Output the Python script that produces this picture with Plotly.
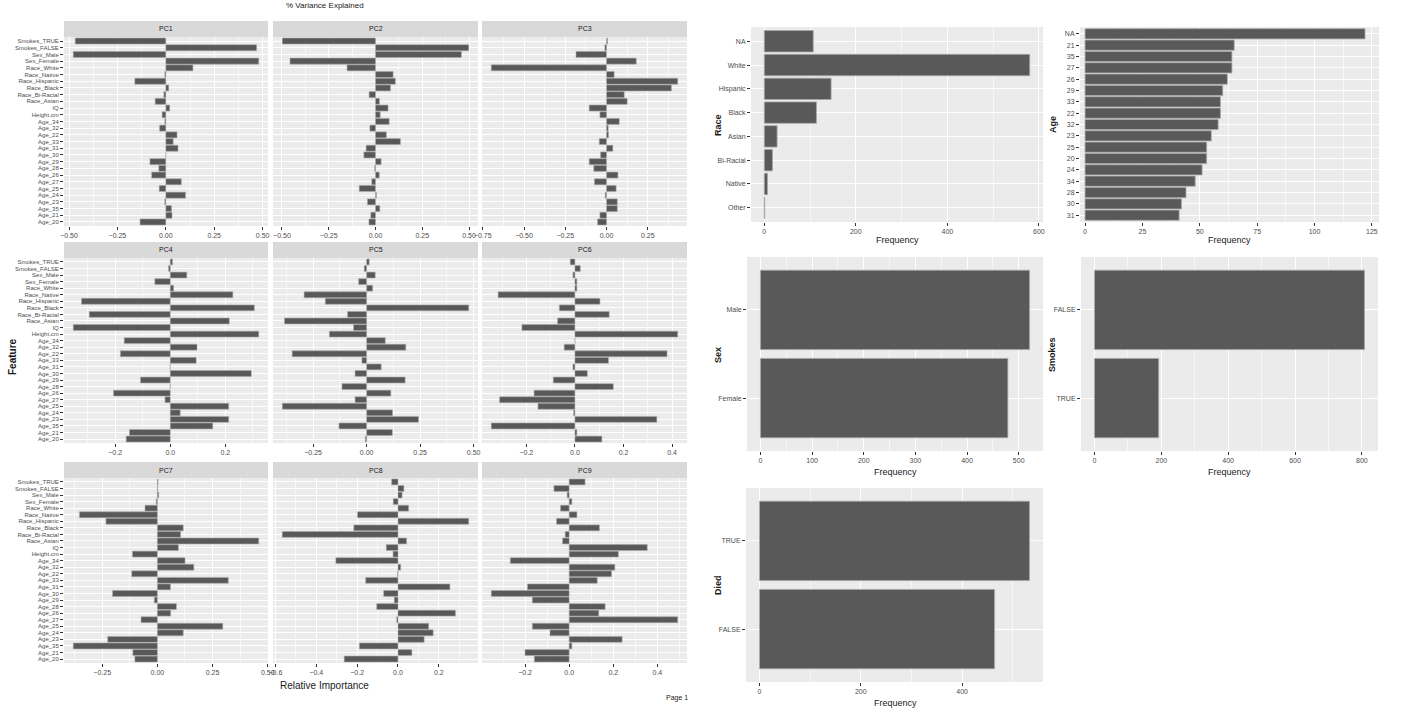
import plotly.graph_objects as go

W, H = 1403, 714

features = ["Smokes_TRUE", "Smokes_FALSE", "Sex_Male", "Sex_Female", "Race_White",
            "Race_Native", "Race_Hispanic", "Race_Black", "Race_Bi-Racial", "Race_Asian",
            "IQ", "Height.cm", "Age_34", "Age_32", "Age_22", "Age_33", "Age_31", "Age_30",
            "Age_29", "Age_28", "Age_26", "Age_27", "Age_25", "Age_24", "Age_23", "Age_35",
            "Age_21", "Age_20"]

pc_names = ["PC1", "PC2", "PC3", "PC4", "PC5", "PC6", "PC7", "PC8", "PC9"]

PC1 = [-0.468, 0.469, -0.478, 0.480, 0.140, -0.005, -0.160, 0.015, -0.010, -0.055,
       0.020, -0.019, -0.005, -0.032, 0.058, 0.038, 0.063, 0.0, -0.082, -0.036,
       -0.073, 0.080, -0.034, 0.102, -0.005, 0.029, 0.032, -0.133]
PC2 = [-0.498, 0.498, 0.459, -0.457, -0.152, 0.094, 0.106, 0.080, -0.034, 0.021,
       0.067, 0.025, 0.073, -0.030, 0.058, 0.133, -0.050, -0.062, 0.030, -0.004,
       0.020, -0.020, -0.087, 0.005, -0.043, 0.023, -0.025, -0.035]
PC3 = [0.006, -0.010, -0.185, 0.180, -0.698, 0.046, 0.431, 0.393, 0.107, 0.125,
       -0.105, -0.040, 0.077, 0.010, 0.012, -0.044, 0.038, -0.036, -0.105, -0.077,
       0.069, -0.073, 0.058, -0.008, 0.065, 0.065, -0.040, -0.054]
PC4 = [0.008, -0.006, 0.060, -0.056, 0.012, 0.227, -0.322, 0.305, -0.294, 0.214,
       -0.352, 0.321, -0.167, 0.097, -0.181, 0.094, 0.0, 0.294, -0.108, 0.0,
       -0.206, -0.019, 0.212, 0.036, 0.212, 0.154, -0.148, -0.160]
PC5 = [0.012, -0.011, 0.040, -0.037, 0.028, -0.292, -0.193, 0.477, -0.089, -0.384,
       -0.061, -0.174, 0.087, 0.183, -0.348, -0.022, 0.068, -0.054, 0.180, -0.115,
       0.113, -0.054, -0.394, 0.121, 0.242, -0.129, 0.120, -0.006]
PC6 = [-0.019, 0.022, -0.008, 0.008, 0.008, -0.316, 0.103, -0.064, 0.141, -0.071,
       -0.218, 0.423, 0.0, -0.044, 0.379, 0.138, -0.008, 0.051, -0.089, 0.158,
       -0.168, -0.310, -0.152, -0.005, 0.337, -0.344, 0.008, 0.111]
PC7 = [0.003, 0.002, 0.006, -0.005, -0.056, -0.353, -0.233, 0.117, 0.105, 0.459,
       0.095, -0.113, 0.125, 0.165, -0.116, 0.321, 0.059, -0.203, -0.014, 0.086,
       0.060, -0.074, 0.296, 0.117, -0.225, -0.381, -0.111, -0.102]
PC8 = [-0.031, 0.029, 0.020, -0.023, 0.052, -0.198, 0.346, -0.216, -0.566, 0.042,
       -0.057, -0.024, -0.304, 0.013, -0.002, -0.158, 0.254, -0.070, -0.018, -0.104,
       0.281, -0.006, 0.150, 0.172, 0.128, -0.189, 0.068, -0.263]
PC9 = [0.072, -0.069, -0.009, 0.012, -0.039, 0.035, -0.057, 0.137, -0.018, -0.030,
       0.354, 0.223, -0.267, 0.207, 0.192, 0.127, -0.189, -0.353, -0.167, 0.163,
       0.134, 0.492, -0.167, -0.087, 0.240, 0.012, -0.200, -0.158]
pcs = [PC1, PC2, PC3, PC4, PC5, PC6, PC7, PC8, PC9]
pc_dtick = [0.25, 0.25, 0.25, 0.2, 0.25, 0.2, 0.25, 0.2, 0.2]

race_cats = ["NA", "White", "Hispanic", "Black", "Asian", "Bi-Racial", "Native", "Other"]
race_vals = [107, 580, 146, 114, 28, 18, 7, 1]
age_cats = ["NA", "21", "35", "27", "26", "29", "33", "22", "32", "23", "25", "20",
            "24", "34", "28", "30", "31"]
age_vals = [122, 65, 64, 64, 62, 60, 59, 59, 58, 55, 53, 53, 51, 48, 44, 42, 41]
sex_cats = ["Male", "Female"]
sex_vals = [521, 479]
smokes_cats = ["FALSE", "TRUE"]
smokes_vals = [808, 192]
died_cats = ["TRUE", "FALSE"]
died_vals = [533, 464]

FONT = "Liberation Sans, Arial, sans-serif"
BAR = "#595959"
EDGE = "#A8A8A8"
TICKC = "#4D4D4D"


def fx(x):
    return x / W


def fy(y):
    return 1 - y / H


fig = go.Figure()
layout = dict(
    width=W, height=H, margin=dict(l=0, r=0, t=0, b=0, autoexpand=False),
    paper_bgcolor="white", plot_bgcolor="#EBEBEB",
    showlegend=False, bargap=0.1, font=dict(family=FONT, color=TICKC),
)
shapes = []
annotations = []


def xaxis_cfg(x0, x1, rng, dtick, fmt, fs=7, anchor="y1"):
    return dict(
        domain=[fx(x0), fx(x1)], range=rng, anchor=anchor, automargin=False,
        dtick=dtick, tick0=0, tickformat=fmt,
        showgrid=True, gridcolor="white", gridwidth=1,
        minor=dict(showgrid=True, gridcolor="#F7F7F7", gridwidth=0.5, dtick=dtick / 2, tick0=0),
        zeroline=False, showline=False,
        ticks="outside", ticklen=3, tickwidth=0.7, tickcolor="#333333",
        tickfont=dict(size=fs, color=TICKC, family=FONT),
    )


def yaxis_cfg(y0, y1, cats, showlabels, fs=7, anchor="x1"):
    n = len(cats)
    return dict(
        domain=[fy(y1), fy(y0)], anchor=anchor, type="category", automargin=False,
        categoryorder="array", categoryarray=list(reversed(cats)),
        range=[-0.6, n - 1 + 0.6],
        tickmode="array", tickvals=list(cats), ticktext=list(cats),
        showgrid=True, gridcolor="white", gridwidth=1,
        zeroline=False, showline=False,
        showticklabels=showlabels,
        ticks="outside" if showlabels else "", ticklen=3, tickwidth=0.7, tickcolor="#333333",
        tickfont=dict(size=fs, color=TICKC, family=FONT),
    )


col_x = [(64, 268), (273, 478), (482, 687)]
row_y = [(37, 226), (258, 443), (478, 663)]

for i, (name, vals, dt) in enumerate(zip(pc_names, pcs, pc_dtick)):
    k = i + 1
    r, c = divmod(i, 3)
    x0, x1 = col_x[c]
    y0, y1 = row_y[r]
    lo = min(min(vals), 0)
    hi = max(max(vals), 0)
    pad = 0.05 * (hi - lo)
    fig.add_trace(go.Bar(
        x=vals, y=features, orientation="h", xaxis=f"x{k}", yaxis=f"y{k}",
        marker=dict(color=BAR, line=dict(color=EDGE, width=0.6)),
    ))
    fmt = ".2f" if dt == 0.25 else ".1f"
    layout[f"xaxis{k}"] = xaxis_cfg(x0, x1, [lo - pad, hi + pad], dt, fmt, 7, f"y{k}")
    layout[f"yaxis{k}"] = yaxis_cfg(y0, y1, features, c == 0, 6, f"x{k}")
    # strip
    shapes.append(dict(type="rect", xref="paper", yref="paper",
                       x0=fx(x0), x1=fx(x1), y0=fy(y0), y1=fy(y0 - 16),
                       fillcolor="#D9D9D9", line=dict(width=0), layer="below"))
    annotations.append(dict(text=name, xref="paper", yref="paper",
                            x=fx((x0 + x1) / 2), y=fy(y0 - 8), showarrow=False,
                            font=dict(size=7, color="#1A1A1A", family=FONT),
                            xanchor="center", yanchor="middle"))

# right-side bar charts: (title, cats, vals, x px, y px, dtick, left pad fraction, ytitle pos, xtitle pos)
right = [
    ("Race", race_cats, race_vals, (751, 1043), (27, 222), 200, 0.05, (718, 125), (897, 240)),
    ("Age", age_cats, age_vals, (1080, 1379), (27, 222), 25, 0.018, (1053, 125), (1229, 240)),
    ("Sex", sex_cats, sex_vals, (747, 1043), (257, 451), 100, 0.05, (718, 355), (895, 472)),
    ("Smokes", smokes_cats, smokes_vals, (1081, 1378), (257, 451), 200, 0.05, (1052, 355), (1229, 472)),
    ("Died", died_cats, died_vals, (746, 1043), (488, 682), 200, 0.05, (718, 585), (895, 703)),
]
for j, (title, cats, vals, (x0, x1), (y0, y1), dt, lp, ytpos, xtpos) in enumerate(right):
    k = 10 + j
    mx = max(vals)
    fig.add_trace(go.Bar(
        x=vals, y=cats, orientation="h", xaxis=f"x{k}", yaxis=f"y{k}",
        marker=dict(color=BAR, line=dict(color=EDGE, width=0.8)),
    ))
    layout[f"xaxis{k}"] = xaxis_cfg(x0, x1, [-lp * mx, 1.05 * mx], dt, "d", 7, f"y{k}")
    layout[f"yaxis{k}"] = yaxis_cfg(y0, y1, cats, True, 7, f"x{k}")
    annotations.append(dict(text="<b>" + title + "</b>", xref="paper", yref="paper",
                            x=fx(ytpos[0]), y=fy(ytpos[1]), textangle=-90, showarrow=False,
                            font=dict(size=9, color="#1A1A1A", family=FONT),
                            xanchor="center", yanchor="middle"))
    annotations.append(dict(text="Frequency", xref="paper", yref="paper",
                            x=fx(xtpos[0]), y=fy(xtpos[1]), showarrow=False,
                            font=dict(size=9, color="#1A1A1A", family=FONT),
                            xanchor="center", yanchor="middle"))

annotations += [
    dict(text="% Variance Explained", xref="paper", yref="paper", x=fx(325), y=fy(6),
         showarrow=False, font=dict(size=8, color="#1A1A1A", family=FONT),
         xanchor="center", yanchor="middle"),
    dict(text="<b>Feature</b>", xref="paper", yref="paper", x=fx(12), y=fy(357), textangle=-90,
         showarrow=False, font=dict(size=10, color="#1A1A1A", family=FONT),
         xanchor="center", yanchor="middle"),
    dict(text="Relative Importance", xref="paper", yref="paper", x=fx(324), y=fy(685),
         showarrow=False, font=dict(size=10, color="#1A1A1A", family=FONT),
         xanchor="center", yanchor="middle"),
    dict(text="Page 1", xref="paper", yref="paper", x=fx(677), y=fy(698),
         showarrow=False, font=dict(size=7, color="#1A1A1A", family=FONT),
         xanchor="center", yanchor="middle"),
]

layout["shapes"] = shapes
layout["annotations"] = annotations
fig.update_layout(**layout)
fig.write_html("out.html")
